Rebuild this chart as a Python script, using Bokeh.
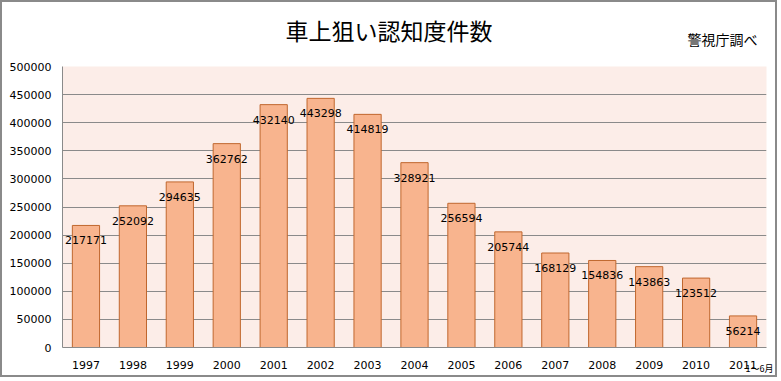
from bokeh.plotting import figure
from bokeh.models import ColumnDataSource, Title, SingleIntervalTicker, NumeralTickFormatter
from bokeh.core.properties import value
from bokeh.embed import file_html
from bokeh.resources import INLINE

years = ["1997", "1998", "1999", "2000", "2001", "2002", "2003", "2004",
         "2005", "2006", "2007", "2008", "2009", "2010", "2011"]
counts = [217171, 252092, 294635, 362762, 432140, 443298, 414819, 328921,
          256594, 205744, 168129, 154836, 143863, 123512, 56214]
labels = [str(c) for c in counts]

title_text = "車上狙い認知度件数"
source_text = "警視庁調べ"
note_text = "1～6月"

src = ColumnDataSource(dict(x=years, y=counts, label=labels))

p = figure(x_range=years, y_range=(0, 500000), width=777, height=377,
           output_backend="svg", toolbar_location=None, title=None,
           min_border_left=60, min_border_right=13, min_border_top=64, min_border_bottom=32)
p.styles = {"border": "2px solid #8a8a8a"}
p.background_fill_color = "#fcede8"
p.border_fill_color = "white"
p.outline_line_color = None

p.vbar(x="x", top="y", width=0.58, source=src, fill_color="#f8b48e",
       line_color="#c0672e", line_width=1)
p.text(x="x", y="y", text="label", source=src, text_align="center",
       text_baseline="middle", y_offset=15, text_font=value("DejaVu Sans"),
       text_font_size="11px", text_color="black")

p.ygrid.grid_line_color = "#8a8a8a"
p.ygrid.grid_line_width = 1
p.xgrid.grid_line_color = None

p.yaxis.ticker = SingleIntervalTicker(interval=50000)
p.yaxis.formatter = NumeralTickFormatter(format="0")
for ax in (p.xaxis[0], p.yaxis[0]):
    ax.axis_line_color = "#8a8a8a"
    ax.major_tick_line_color = None
    ax.minor_tick_line_color = None
    ax.major_label_text_font = "DejaVu Sans"
    ax.major_label_text_font_size = "11px"
    ax.major_label_text_color = "black"
p.yaxis.major_label_standoff = 5
p.xaxis.major_label_standoff = 7

p.add_layout(Title(text=source_text, align="right", offset=9, standoff=36,
                   text_font="Noto Sans CJK JP", text_font_size="14px",
                   text_font_style="normal", text_color="black"), "above")
p.add_layout(Title(text=title_text, align="left", offset=223, standoff=-76,
                   text_font="Noto Sans CJK JP", text_font_size="23px",
                   text_font_style="normal", text_color="black"), "above")
p.add_layout(Title(text=note_text, align="right", offset=-7, standoff=-19,
                   vertical_align="top",
                   text_font="Noto Sans CJK JP", text_font_size="9px",
                   text_font_style="normal", text_color="black"), "below")

html = file_html(p, INLINE)
html = html.replace("<body>", '<body style="margin:0">', 1)
open("out.html", "w").write(html)
